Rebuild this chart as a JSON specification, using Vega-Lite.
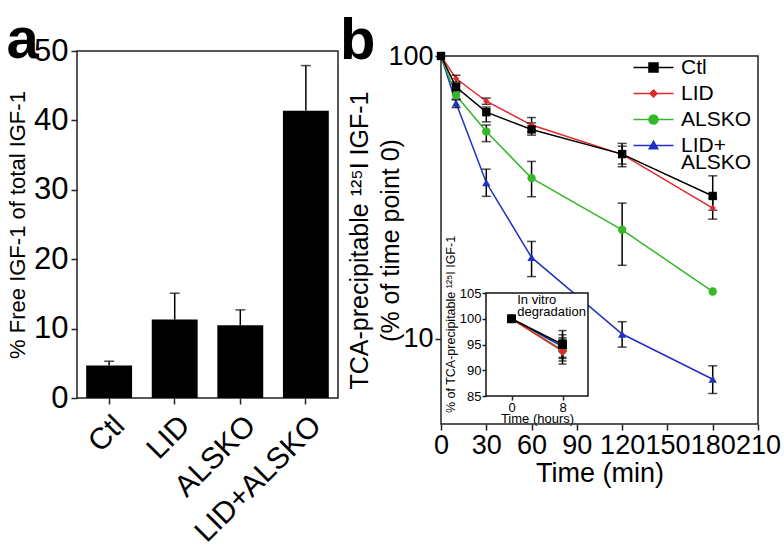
{
  "$schema": "https://vega.github.io/schema/vega-lite/v6.json",
  "background": "white",
  "padding": {"left": 5, "top": 11, "right": 2, "bottom": 2},
  "config": {
    "font": "Liberation Sans",
    "view": {"stroke": "#222", "strokeWidth": 1.5},
    "axis": {"domainColor": "#222", "tickColor": "#222", "labelColor": "#000", "titleColor": "#000", "grid": false, "domainWidth": 1.5, "tickWidth": 1.5, "titleFontWeight": "normal"},
    "title": {"color": "#000", "fontWeight": "bold"}
  },
  "datasets": {
    "bars": [
      {"group": "Ctl", "value": 4.7, "upper": 5.3},
      {"group": "LID", "value": 11.3, "upper": 15.1},
      {"group": "ALSKO", "value": 10.5, "upper": 12.7},
      {"group": "LID+ALSKO", "value": 41.4, "upper": 47.9}
    ],
    "series": [
      {"group": "LID+ALSKO", "t": 0, "v": 100}, {"group": "LID+ALSKO", "t": 10, "v": 68.2}, {"group": "LID+ALSKO", "t": 30, "v": 35.7}, {"group": "LID+ALSKO", "t": 60, "v": 19.4}, {"group": "LID+ALSKO", "t": 120, "v": 10.4}, {"group": "LID+ALSKO", "t": 180, "v": 7.2},
      {"group": "ALSKO", "t": 0, "v": 100}, {"group": "ALSKO", "t": 10, "v": 72.6}, {"group": "ALSKO", "t": 30, "v": 54.1}, {"group": "ALSKO", "t": 60, "v": 37.0}, {"group": "ALSKO", "t": 120, "v": 24.3}, {"group": "ALSKO", "t": 180, "v": 14.7},
      {"group": "LID", "t": 0, "v": 100}, {"group": "LID", "t": 10, "v": 83.2}, {"group": "LID", "t": 30, "v": 69.2}, {"group": "LID", "t": 60, "v": 57.0}, {"group": "LID", "t": 120, "v": 44.9}, {"group": "LID", "t": 180, "v": 29.0},
      {"group": "Ctl", "t": 0, "v": 100}, {"group": "Ctl", "t": 10, "v": 77.7}, {"group": "Ctl", "t": 30, "v": 63.3}, {"group": "Ctl", "t": 60, "v": 55.0}, {"group": "Ctl", "t": 120, "v": 45.0}, {"group": "Ctl", "t": 180, "v": 32.0}
    ],
    "errs": [
      {"group": "LID+ALSKO", "t": 10, "lo": 65.7, "hi": 70.0}, {"group": "LID+ALSKO", "t": 30, "lo": 31.9, "hi": 39.8}, {"group": "LID+ALSKO", "t": 60, "lo": 16.6, "hi": 22.1}, {"group": "LID+ALSKO", "t": 120, "lo": 9.35, "hi": 11.5}, {"group": "LID+ALSKO", "t": 180, "lo": 6.41, "hi": 8.03},
      {"group": "ALSKO", "t": 10, "lo": 70.5, "hi": 74.5}, {"group": "ALSKO", "t": 30, "lo": 49.8, "hi": 57.0}, {"group": "ALSKO", "t": 60, "lo": 31.8, "hi": 42.4}, {"group": "ALSKO", "t": 120, "lo": 18.2, "hi": 30.2},
      {"group": "LID", "t": 10, "lo": 81.0, "hi": 85.5}, {"group": "LID", "t": 30, "lo": 67.5, "hi": 71.0}, {"group": "LID", "t": 60, "lo": 54.0, "hi": 60.6}, {"group": "LID", "t": 120, "lo": 41.5, "hi": 48.0}, {"group": "LID", "t": 180, "lo": 26.5, "hi": 31.5},
      {"group": "Ctl", "t": 10, "lo": 75.5, "hi": 80.0}, {"group": "Ctl", "t": 30, "lo": 58.5, "hi": 66.0}, {"group": "Ctl", "t": 60, "lo": 52.5, "hi": 58.0}, {"group": "Ctl", "t": 120, "lo": 40.6, "hi": 49.1}, {"group": "Ctl", "t": 180, "lo": 28.5, "hi": 37.7}
    ],
    "frameB": [{"t0": 0, "t1": 210, "v0": 5, "v1": 100}],
    "inset": [
      {"group": "LID+ALSKO", "h": 0, "v": 100}, {"group": "LID+ALSKO", "h": 8, "v": 94.6},
      {"group": "ALSKO", "h": 0, "v": 100}, {"group": "ALSKO", "h": 8, "v": 93.9},
      {"group": "LID", "h": 0, "v": 100}, {"group": "LID", "h": 8, "v": 93.7},
      {"group": "Ctl", "h": 0, "v": 100}, {"group": "Ctl", "h": 8, "v": 95.0}
    ],
    "insetErrs": [
      {"group": "LID+ALSKO", "h": 8, "lo": 92.5, "hi": 96.9},
      {"group": "ALSKO", "h": 8, "lo": 91.8, "hi": 96.0},
      {"group": "LID", "h": 8, "lo": 91.2, "hi": 96.3},
      {"group": "Ctl", "h": 8, "lo": 92.3, "hi": 97.7}
    ],
    "insetFrame": [{"x1": -4, "x2": 12, "y1": 85, "y2": 105}],
    "insetNote": [{"h": 0.9, "v": 103.6, "label": "In vitro"}, {"h": 0.9, "v": 101.4, "label": "degradation"}]
  },
  "spacing": 0,
  "resolve": {"scale": {"color": "independent", "shape": "independent"}, "legend": {"color": "independent", "shape": "independent"}},
  "hconcat": [
    {
      "width": 261,
      "height": 347,
      "title": {"text": "a", "anchor": "start", "frame": "bounds", "fontSize": 58, "offset": -35},
      "data": {"name": "bars"},
      "encoding": {
        "x": {"field": "group", "type": "nominal", "sort": null,
          "scale": {"paddingInner": 0.3, "paddingOuter": 0.14},
          "axis": {"title": null, "labelAngle": -45, "labelFontSize": 30, "tickSize": 6, "labelPadding": 6, "domain": false}}
      },
      "layer": [
        {"mark": {"type": "bar", "color": "#000"},
         "encoding": {"y": {"field": "value", "type": "quantitative", "scale": {"domain": [0, 50], "nice": false},
           "axis": {"values": [0, 10, 20, 30, 40, 50], "labelFontSize": 31, "title": "% Free IGF-1 of total IGF-1", "titleFontSize": 22, "tickSize": 6, "titlePadding": 4, "labelPadding": 3, "domain": false}}}},
        {"mark": {"type": "rule", "color": "#000", "strokeWidth": 1.5},
         "encoding": {"y": {"field": "value", "type": "quantitative"}, "y2": {"field": "upper"}}},
        {"mark": {"type": "tick", "orient": "horizontal", "color": "#000", "thickness": 1.5, "size": 10},
         "encoding": {"y": {"field": "upper", "type": "quantitative"}}}
      ]
    },
    {
      "width": 317,
      "height": 373,
      "view": {"stroke": null},
      "title": {"text": "b", "anchor": "start", "frame": "bounds", "fontSize": 58, "offset": -29, "dx": -8},
      "layer": [
        {
          "data": {"name": "series"},
          "encoding": {
            "x": {"field": "t", "type": "quantitative", "scale": {"domain": [0, 210], "nice": false},
              "axis": {"values": [0, 30, 60, 90, 120, 150, 180, 210], "labelFontSize": 27, "labelOverlap": false, "labelFlush": false, "title": "Time (min)", "titleFontSize": 27, "tickSize": 6, "labelPadding": 2, "titlePadding": 2, "domain": false}},
            "y": {"field": "v", "type": "quantitative", "scale": {"type": "log", "domain": [5, 100], "nice": false, "range": [373, 5]},
              "axis": {"values": [10, 100], "labelFontSize": 27, "labelFlush": false, "title": ["TCA-precipitable ¹²⁵I IGF-1", "(% of time point 0)"], "titleFontSize": 25, "titleLineHeight": 31, "titlePadding": -16, "tickSize": 6, "labelPadding": 2, "domain": false}}
          },
          "layer": [
            {"data": {"name": "frameB"},
             "mark": {"type": "rect", "filled": false, "stroke": "#222", "strokeWidth": 1.5},
             "encoding": {"x": {"field": "t0", "type": "quantitative"}, "x2": {"field": "t1"}, "y": {"field": "v0", "type": "quantitative"}, "y2": {"field": "v1"}}},
            {"mark": {"type": "line", "strokeWidth": 1.5},
             "encoding": {"color": {"field": "group", "type": "nominal", "scale": {"domain": ["Ctl", "LID", "ALSKO", "LID+ALSKO"], "range": ["#000000", "#e4262a", "#35b729", "#2030c0"]}}}},
            {"data": {"name": "errs"},
             "mark": {"type": "rule", "color": "#000", "strokeWidth": 1.5},
             "encoding": {"y": {"field": "lo", "type": "quantitative"}, "y2": {"field": "hi"}}},
            {"data": {"name": "errs"},
             "mark": {"type": "tick", "orient": "horizontal", "color": "#000", "thickness": 1.5, "size": 9},
             "encoding": {"y": {"field": "lo", "type": "quantitative"}}},
            {"data": {"name": "errs"},
             "mark": {"type": "tick", "orient": "horizontal", "color": "#000", "thickness": 1.5, "size": 9},
             "encoding": {"y": {"field": "hi", "type": "quantitative"}}},
            {"transform": [{"filter": "datum.group == 'LID'"}],
             "mark": {"type": "point", "filled": true, "opacity": 1, "size": 40},
             "encoding": {
               "color": {"field": "group", "type": "nominal"},
               "shape": {"field": "group", "type": "nominal", "legend": null}
             }},
            {"transform": [{"filter": "datum.group != 'LID'"}],
             "mark": {"type": "point", "filled": true, "opacity": 1, "size": 70},
             "encoding": {
               "color": {"field": "group", "type": "nominal",
                 "legend": {"title": null, "orient": "top-right", "offset": 6, "padding": 0, "labelFontSize": 21, "labelOffset": 17, "labelLimit": 0, "rowPadding": 4,
                   "labelExpr": "datum.label == 'LID+ALSKO' ? ['LID+', 'ALSKO'] : datum.label",
                   "encoding": {
                     "labels": {"lineHeight": {"value": 17}},
                     "symbols": {
                     "shape": {"value": {"expr": "datum.value == 'Ctl' ? 'M-4,0H4M-0.9,-0.9H0.9V0.9H-0.9Z' : datum.value == 'LID' ? 'M-4,0H4M0,-0.7L0.7,0L0,0.7L-0.7,0Z' : datum.value == 'ALSKO' ? 'M-4,0H4M0.9,0A0.9,0.9,0,1,1,-0.9,0A0.9,0.9,0,1,1,0.9,0Z' : 'M-4,0H4M0,-0.85L0.85,0.65H-0.85Z'"}},
                     "stroke": {"value": {"expr": "datum.value == 'Ctl' ? '#000000' : datum.value == 'LID' ? '#e4262a' : datum.value == 'ALSKO' ? '#35b729' : '#2030c0'"}},
                     "fill": {"value": {"expr": "datum.value == 'Ctl' ? '#000000' : datum.value == 'LID' ? '#e4262a' : datum.value == 'ALSKO' ? '#35b729' : '#2030c0'"}},
                     "strokeWidth": {"value": 1.5},
                     "size": {"value": 100},
                     "opacity": {"value": 1}
                   }}}},
               "shape": {"field": "group", "type": "nominal", "legend": null, "scale": {"domain": ["LID+ALSKO", "ALSKO", "LID", "Ctl"], "range": ["triangle-up", "circle", "diamond", "square"]}}
             }}
          ]
        },
        {
          "layer": [
            {"data": {"name": "insetFrame"},
             "mark": {"type": "rect", "fill": "white", "stroke": "#111", "strokeWidth": 1.5},
             "encoding": {
               "x": {"field": "x1", "type": "quantitative", "scale": {"domain": [-4, 12], "range": [45, 147], "nice": false},
                 "axis": {"orient": "bottom", "offset": -28, "values": [0, 8], "labelFontSize": 13, "title": "Time (hours)", "titleFontSize": 13, "tickSize": 4, "labelPadding": 1, "titlePadding": -2, "domain": false, "labelFlush": false}},
               "x2": {"field": "x2"},
               "y": {"field": "y1", "type": "quantitative", "scale": {"domain": [85, 105], "range": [345, 242], "nice": false},
                 "axis": {"orient": "left", "offset": -45, "values": [85, 90, 95, 100, 105], "labelFontSize": 13, "title": "% of TCA-precipitable ¹²⁵I IGF-1", "titleFontSize": 12.5, "titleY": 273, "tickSize": 4, "labelPadding": 1, "titlePadding": 2, "domain": false, "labelFlush": false}},
               "y2": {"field": "y2"}
             }},
            {"data": {"name": "insetNote"},
             "mark": {"type": "text", "align": "left", "baseline": "middle", "fontSize": 13, "color": "#000"},
             "encoding": {"x": {"field": "h", "type": "quantitative"}, "y": {"field": "v", "type": "quantitative"}, "text": {"field": "label"}}},
            {"data": {"name": "inset"},
             "mark": {"type": "line", "strokeWidth": 1.5},
             "encoding": {"x": {"field": "h", "type": "quantitative"}, "y": {"field": "v", "type": "quantitative"}, "color": {"field": "group", "type": "nominal"}}},
            {"data": {"name": "insetErrs"},
             "mark": {"type": "rule", "color": "#000", "strokeWidth": 1.5},
             "encoding": {"x": {"field": "h", "type": "quantitative"}, "y": {"field": "lo", "type": "quantitative"}, "y2": {"field": "hi"}}},
            {"data": {"name": "insetErrs"},
             "mark": {"type": "tick", "orient": "horizontal", "color": "#000", "thickness": 1.5, "size": 8},
             "encoding": {"x": {"field": "h", "type": "quantitative"}, "y": {"field": "lo", "type": "quantitative"}}},
            {"data": {"name": "insetErrs"},
             "mark": {"type": "tick", "orient": "horizontal", "color": "#000", "thickness": 1.5, "size": 8},
             "encoding": {"x": {"field": "h", "type": "quantitative"}, "y": {"field": "hi", "type": "quantitative"}}},
            {"data": {"name": "inset"},
             "mark": {"type": "point", "filled": true, "opacity": 1, "size": 80},
             "encoding": {"x": {"field": "h", "type": "quantitative"}, "y": {"field": "v", "type": "quantitative"}, "color": {"field": "group", "type": "nominal"}, "shape": {"field": "group", "type": "nominal", "legend": null}}}
          ]
        }
      ],
      "resolve": {"scale": {"x": "independent", "y": "independent"}, "axis": {"x": "independent", "y": "independent"}}
    }
  ]
}
